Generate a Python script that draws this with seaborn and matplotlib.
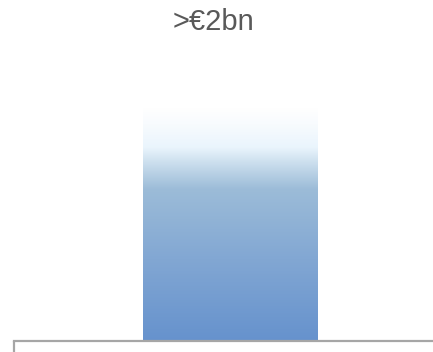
import numpy as np
import pandas as pd
import matplotlib
matplotlib.use("Agg")
import matplotlib.pyplot as plt
from matplotlib.colors import LinearSegmentedColormap
import seaborn as sns

# Data
categories = ["Total"]
values = [2.0]
label_text = ">€2bn"

sns.set_theme(style="white")
plt.rcParams["font.family"] = ["Liberation Sans", "DejaVu Sans"]

df = pd.DataFrame({"category": categories, "value": values})

W, H = 433, 352
fig = plt.figure(figsize=(W / 100, H / 100), dpi=100)
ax = fig.add_axes([14 / W, 11 / H, (W - 14) / W, (341 - 108) / H])

sns.barplot(data=df, x="category", y="value", width=0.8, ax=ax,
            color="#6692cd", saturation=1)

ax.set_xlim(-0.993, 0.933)
ax.set_ylim(0, max(values))

# Vertical gradient fill for each bar
grad_cmap = LinearSegmentedColormap.from_list(
    "fade",
    [(0.0, "#ffffff"), (0.07, "#f8fbfe"), (0.17, "#eaf5fd"),
     (0.245, "#c8dcec"), (0.35, "#9cbcd8"), (0.65, "#82a7d3"),
     (1.0, "#6692cd")],
)
grad = np.linspace(0, 1, 256).reshape(-1, 1)
for patch in ax.patches:
    x0, y0 = patch.get_x(), patch.get_y()
    w, h = patch.get_width(), patch.get_height()
    im = ax.imshow(grad, cmap=grad_cmap, aspect="auto",
                   extent=(x0, x0 + w, y0, y0 + h), origin="upper",
                   interpolation="bicubic", zorder=patch.get_zorder())
    im.set_clip_path(patch)
    patch.set_facecolor("none")
    patch.set_edgecolor("none")
ax.set_xlim(-0.993, 0.933)
ax.set_ylim(0, max(values))

for side in ["top", "right"]:
    ax.spines[side].set_visible(False)
ax.spines["left"].set_visible(False)
ax.spines["bottom"].set_color("#a6a6a6")
ax.spines["bottom"].set_linewidth(1.6)
ax.set_xticks([-0.993])
ax.set_xticklabels([""])
ax.tick_params(axis="x", direction="out", length=8, width=1.6,
               color="#a6a6a6", bottom=True)
ax.set_yticks([])
ax.set_xlabel("")
ax.set_ylabel("")

fig.text(213 / W, 1 - 22 / H, label_text, ha="center", va="center",
         fontsize=21, color="#595959")

fig.savefig("out.png", dpi=100)
